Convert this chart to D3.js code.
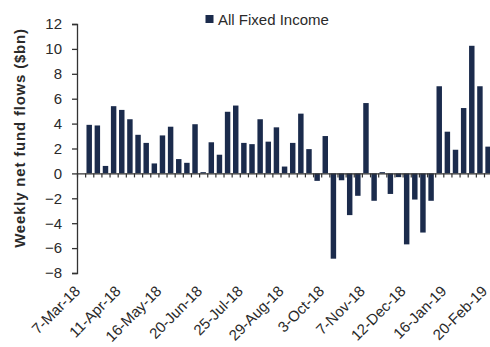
<!DOCTYPE html>
<html><head><meta charset="utf-8">
<script src="https://cdn.jsdelivr.net/npm/d3@7"></script>
<style>
html,body{margin:0;padding:0;background:#fff;overflow:hidden}
text{font-family:"Liberation Sans",Arial,sans-serif}
</style></head>
<body><svg id="c" width="490" height="347"></svg>
<script>
const categories = ["7-Mar-18","14-Mar-18","21-Mar-18","28-Mar-18","4-Apr-18","11-Apr-18","18-Apr-18","25-Apr-18",
"2-May-18","9-May-18","16-May-18","23-May-18","30-May-18","6-Jun-18","13-Jun-18","20-Jun-18","27-Jun-18",
"4-Jul-18","11-Jul-18","18-Jul-18","25-Jul-18","1-Aug-18","8-Aug-18","15-Aug-18","22-Aug-18","29-Aug-18",
"5-Sep-18","12-Sep-18","19-Sep-18","26-Sep-18","3-Oct-18","10-Oct-18","17-Oct-18","24-Oct-18","31-Oct-18",
"7-Nov-18","14-Nov-18","21-Nov-18","28-Nov-18","5-Dec-18","12-Dec-18","19-Dec-18","26-Dec-18",
"2-Jan-19","9-Jan-19","16-Jan-19","23-Jan-19","30-Jan-19","6-Feb-19","13-Feb-19","20-Feb-19"];
const flows = [null,3.9,3.85,0.6,5.4,5.1,4.35,3.1,2.45,0.8,3.05,3.75,1.15,0.85,3.95,0.1,2.5,1.5,4.95,5.45,2.45,
2.35,4.35,2.55,3.7,0.55,2.45,4.8,1.95,-0.6,3.0,-6.85,-0.55,-3.35,-1.8,5.65,-2.2,0.1,-1.65,-0.3,-5.7,-2.1,
-4.75,-2.2,7.0,3.35,1.9,5.25,10.25,7.0,2.15];
const tickLabels = ["7-Mar-18","11-Apr-18","16-May-18","20-Jun-18","25-Jul-18","29-Aug-18","3-Oct-18",
"7-Nov-18","12-Dec-18","16-Jan-19","20-Feb-19"];
const yTicks = [-8,-6,-4,-2,0,2,4,6,8,10,12];
const seriesName = "All Fixed Income";

const svg = d3.select("#c");
const barColor = "#1b2b4c", axisColor = "#333", textColor = "#2a2a2a";
const left = 77, step = 8.14;
const x = d3.scaleBand().domain(categories).range([left, left + categories.length * step]).paddingInner(0.33).paddingOuter(0.165);
const y = d3.scaleLinear().domain([-8, 12]).range([273, 24]);

// bars
svg.append("g").selectAll("rect").data(categories.map((c,i)=>({c, v: flows[i]})).filter(d=>d.v!==null))
  .join("rect")
  .attr("x", d=>x(d.c)).attr("width", x.bandwidth())
  .attr("y", d=>y(Math.max(0,d.v))).attr("height", d=>Math.abs(y(d.v)-y(0)))
  .attr("fill", barColor);

// y axis
const ya = svg.append("g").attr("transform",`translate(${left},0)`)
  .call(d3.axisLeft(y).tickValues(yTicks).tickSize(5).tickPadding(10).tickFormat(d3.format("d")));
ya.select(".domain").attr("stroke", axisColor).attr("stroke-width",1.3);
ya.selectAll(".tick line").attr("stroke", axisColor).attr("stroke-width",1.3);
ya.selectAll("text").attr("font-size","15px").attr("fill",textColor).attr("font-family","Liberation Sans, Arial, sans-serif");

// x zero axis with between-category ticks
const xi = d3.scaleLinear().domain([0, categories.length]).range([left, left + categories.length*step]);
const xa = svg.append("g").attr("transform",`translate(0,${y(0)})`)
  .call(d3.axisBottom(xi).tickValues(d3.range(categories.length+1)).tickSize(4).tickSizeOuter(0).tickFormat(""));
xa.select(".domain").attr("stroke", axisColor).attr("stroke-width",1.3);
xa.selectAll(".tick line").attr("stroke", axisColor).attr("stroke-width",1.2);

// x labels
svg.append("g").selectAll("text").data(tickLabels).join("text")
  .attr("transform", d=>`translate(${x(d)+x.bandwidth()/2},${292}) rotate(-45)`)
  .attr("text-anchor","end").attr("font-size","15px").attr("fill",textColor).text(d=>d);

// y title
svg.append("text").attr("transform","translate(25,138) rotate(-90)")
  .attr("text-anchor","middle").attr("font-size","15px").attr("font-weight","bold")
  .attr("letter-spacing","0.8px").attr("fill",textColor).text("Weekly net fund flows ($bn)");

// legend
const lg = svg.append("g");
lg.append("rect").attr("x",205.5).attr("y",15).attr("width",8).attr("height",8).attr("fill",barColor);
lg.append("text").attr("x",218).attr("y",24.5).attr("font-size","15px").attr("fill",textColor).text(seriesName);
</script></body></html>
